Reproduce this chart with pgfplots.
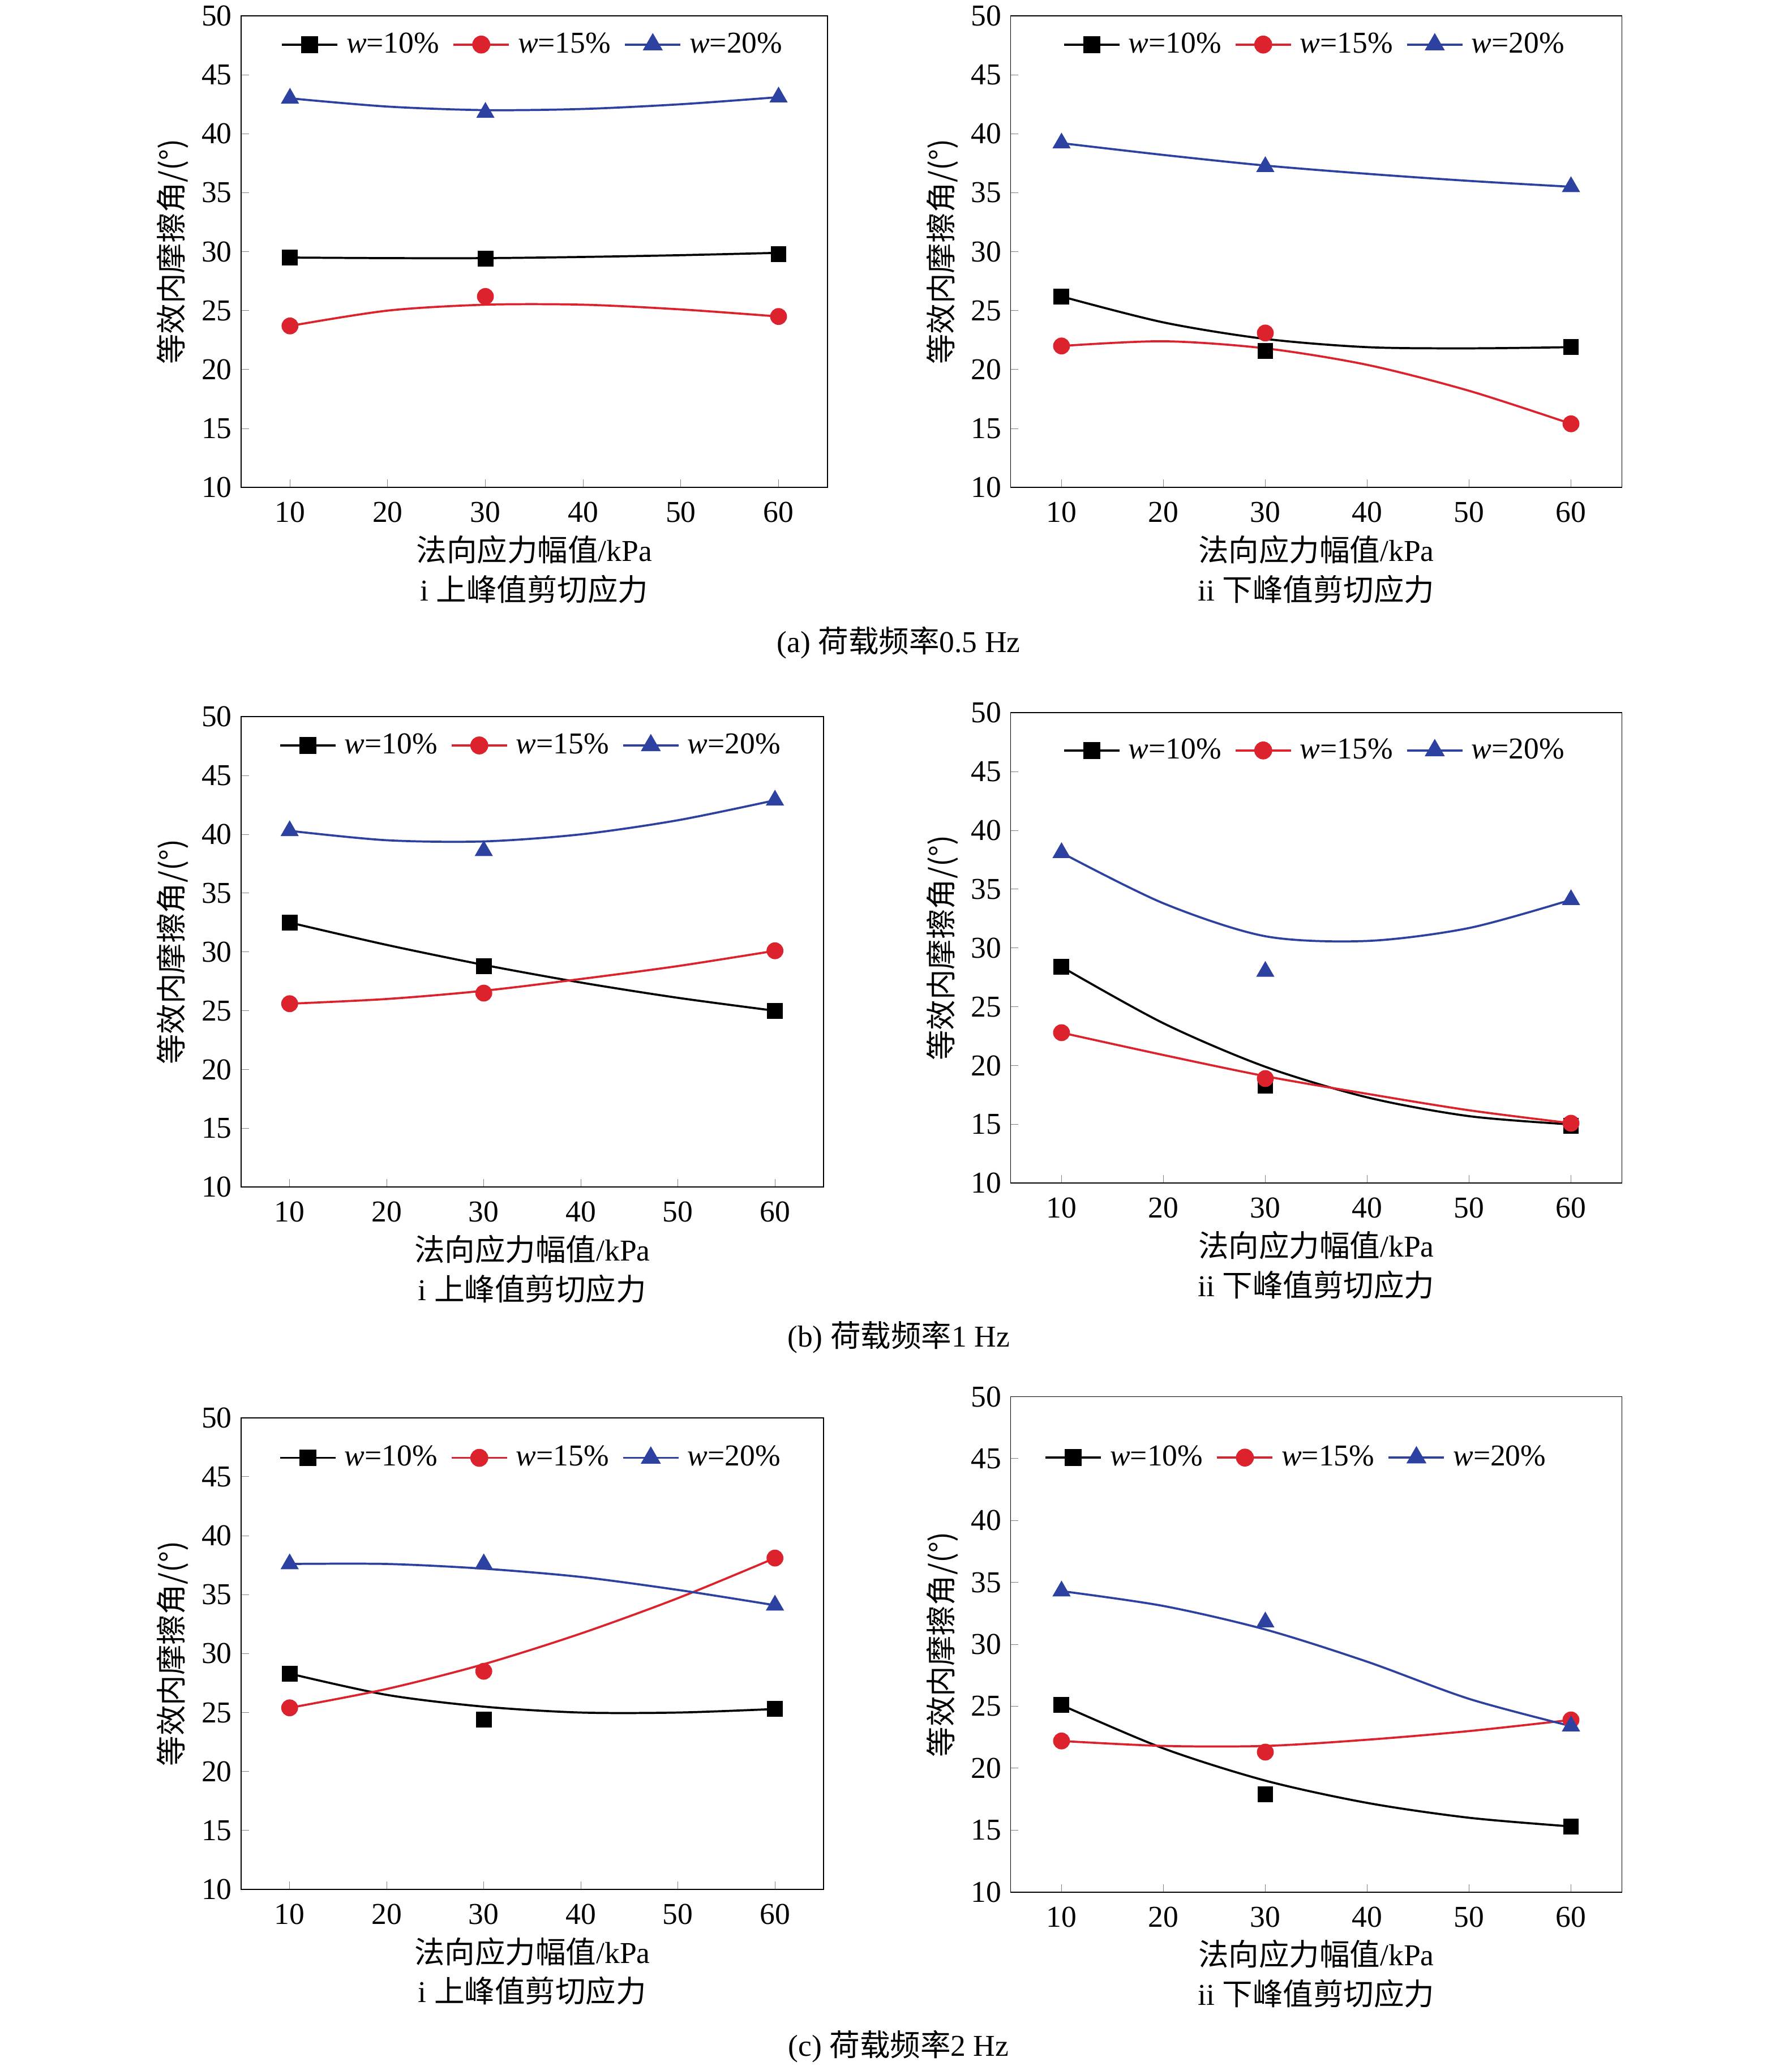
\documentclass[border=0pt]{standalone}
\usepackage{fontspec}
\setmainfont{Liberation Serif}
\newfontfamily\cjk{Noto Sans CJK SC}
\usepackage{pgfplots}
\pgfplotsset{compat=1.18}
\definecolor{cR}{RGB}{220,35,45}
\definecolor{cB}{RGB}{45,65,160}
\pgfplotsset{
  panel/.style={
    scale only axis, anchor=south west,
    xmin=5, xmax=65, ymin=10, ymax=50,
    xtick={10,20,30,40,50,60}, ytick={10,15,...,50},
    tick pos=left, tick align=inside, major tick length=3pt,
    /pgf/number format/assume math mode=true,
    tick label style={font=\fontsize{11.5}{13}\selectfont},
    xticklabel style={yshift=-2pt},
    label style={font=\fontsize{11.5}{13}\selectfont},
    ylabel={\cjk 等效内摩擦角/(°)},
    ylabel style={yshift=-2pt},
    xlabel style={align=center, yshift=2pt},
    legend columns=3,
    legend style={at={(0.5,0.939)}, anchor=center, draw=none, fill=none,
      font=\fontsize{11.5}{13}\selectfont,
      /tikz/every odd column/.append style={column sep=1pt},
      /tikz/every even column/.append style={column sep=3pt}},
    legend image code/.code={\draw[mark repeat=2,mark phase=2] plot coordinates {(0cm,0cm)(0.37cm,0cm)(0.74cm,0cm)};},
    legend cell align=left,
  },
  fit/.style={smooth, no markers, thick, forget plot},
  m10/.style={only marks, mark=square*, mark size=2.8pt, black},
  m15/.style={only marks, mark=*, mark size=3pt, cR},
  m20/.style={only marks, mark=triangle*, mark size=3.6pt, cB},
}
\newcommand{\legendentries}{%
  \addlegendimage{black, thick, mark=square*, mark size=2.8pt}
  \addlegendentry{\textit{w}=10\%}
  \addlegendimage{cR, thick, mark=*, mark size=3pt}
  \addlegendentry{\textit{w}=15\%}
  \addlegendimage{cB, thick, mark=triangle*, mark size=3.6pt}
  \addlegendentry{\textit{w}=20\%}}
\newcommand{\xlabi}{{\cjk 法向应力幅值}/kPa\\[2pt]i {\cjk 上峰值剪切应力}}
\newcommand{\xlabii}{{\cjk 法向应力幅值}/kPa\\[2pt]ii {\cjk 下峰值剪切应力}}
\begin{document}
\begin{tikzpicture}
\path[use as bounding box] (0,0) rectangle (680pt,784pt);
% (a) i
\begin{axis}[panel, at={(91.5pt,599pt)}, width=222.5pt, height=179pt, xlabel={\xlabi}]
\legendentries
\addplot[fit, black] coordinates {(10,29.5)(20,29.45)(30,29.45)(40,29.55)(50,29.7)(60,29.9)};
\addplot[fit, cR] coordinates {(10,23.7)(20,25.0)(30,25.5)(40,25.5)(50,25.1)(60,24.5)};
\addplot[fit, cB] coordinates {(10,43.0)(20,42.3)(30,42.0)(40,42.1)(50,42.5)(60,43.1)};
\addplot[m10] coordinates {(10,29.5)(30,29.4)(60,29.8)};
\addplot[m15] coordinates {(10,23.7)(30,26.2)(60,24.5)};
\addplot[m20] coordinates {(10,43.0)(30,41.8)(60,43.1)};
\end{axis}
% (a) ii
\begin{axis}[panel, at={(383.5pt,599pt)}, width=232pt, height=179pt, xlabel={\xlabii}]
\legendentries
\addplot[fit, black] coordinates {(10,26.2)(20,24.0)(30,22.6)(40,21.9)(50,21.8)(60,21.9)};
\addplot[fit, cR] coordinates {(10,22.0)(20,22.4)(30,21.8)(40,20.4)(50,18.2)(60,15.4)};
\addplot[fit, cB] coordinates {(10,39.2)(20,38.2)(30,37.3)(40,36.6)(50,36.0)(60,35.5)};
\addplot[m10] coordinates {(10,26.2)(30,21.6)(60,21.9)};
\addplot[m15] coordinates {(10,22.0)(30,23.1)(60,15.4)};
\addplot[m20] coordinates {(10,39.2)(30,37.2)(60,35.5)};
\end{axis}
\node[font=\fontsize{11.5}{13}\selectfont] at (341pt,540pt) {(a) {\cjk 荷载频率}0.5 Hz};
% (b) i
\begin{axis}[panel, at={(91.5pt,333.5pt)}, width=221pt, height=178.5pt, xlabel={\xlabi}]
\legendentries
\addplot[fit, black] coordinates {(10,32.5)(20,30.6)(30,28.9)(40,27.4)(50,26.1)(60,25.0)};
\addplot[fit, cR] coordinates {(10,25.6)(20,26.0)(30,26.7)(40,27.7)(50,28.8)(60,30.1)};
\addplot[fit, cB] coordinates {(10,40.3)(20,39.5)(30,39.4)(40,40.0)(50,41.2)(60,42.9)};
\addplot[m10] coordinates {(10,32.5)(30,28.8)(60,25.0)};
\addplot[m15] coordinates {(10,25.6)(30,26.5)(60,30.1)};
\addplot[m20] coordinates {(10,40.3)(30,38.6)(60,42.9)};
\end{axis}
% (b) ii
\begin{axis}[panel, at={(383.5pt,335pt)}, width=232pt, height=178.5pt, xlabel={\xlabii},
  legend style={at={(0.5,0.92)}}]
\legendentries
\addplot[fit, black] coordinates {(10,28.4)(20,23.6)(30,19.9)(40,17.3)(50,15.7)(60,15.0)};
\addplot[fit, cR] coordinates {(10,22.8)(20,20.9)(30,19.1)(40,17.6)(50,16.2)(60,15.1)};
\addplot[fit, cB] coordinates {(10,38.1)(20,33.8)(30,31.0)(40,30.6)(50,31.7)(60,34.1)};
\addplot[m10] coordinates {(10,28.4)(30,18.3)(60,14.9)};
\addplot[m15] coordinates {(10,22.8)(30,18.9)(60,15.1)};
\addplot[m20] coordinates {(10,38.1)(30,28.0)(60,34.1)};
\end{axis}
\node[font=\fontsize{11.5}{13}\selectfont] at (341pt,276.5pt) {(b) {\cjk 荷载频率}1 Hz};
% (c) i
\begin{axis}[panel, at={(91.5pt,67pt)}, width=221pt, height=179pt, xlabel={\xlabi},
  legend style={at={(0.5,0.915)}}]
\legendentries
\addplot[fit, black] coordinates {(10,28.3)(20,26.5)(30,25.5)(40,25.0)(50,25.0)(60,25.3)};
\addplot[fit, cR] coordinates {(10,25.4)(20,27.0)(30,29.1)(40,31.7)(50,34.7)(60,38.1)};
\addplot[fit, cB] coordinates {(10,37.6)(20,37.6)(30,37.2)(40,36.5)(50,35.4)(60,34.1)};
\addplot[m10] coordinates {(10,28.3)(30,24.4)(60,25.3)};
\addplot[m15] coordinates {(10,25.4)(30,28.5)(60,38.1)};
\addplot[m20] coordinates {(10,37.6)(30,37.6)(60,34.1)};
\end{axis}
% (c) ii
\begin{axis}[panel, at={(383.5pt,66pt)}, width=232pt, height=188pt, xlabel={\xlabii},
  legend style={at={(0.47,0.877)}}]
\legendentries
\addplot[fit, black] coordinates {(10,25.1)(20,21.6)(30,19.0)(40,17.2)(50,16.0)(60,15.3)};
\addplot[fit, cR] coordinates {(10,22.2)(20,21.8)(30,21.8)(40,22.3)(50,23.0)(60,23.9)};
\addplot[fit, cB] coordinates {(10,34.3)(20,33.1)(30,31.2)(40,28.6)(50,25.6)(60,23.4)};
\addplot[m10] coordinates {(10,25.1)(30,17.9)(60,15.3)};
\addplot[m15] coordinates {(10,22.2)(30,21.3)(60,23.9)};
\addplot[m20] coordinates {(10,34.3)(30,31.8)(60,23.4)};
\end{axis}
\node[font=\fontsize{11.5}{13}\selectfont] at (341pt,7.5pt) {(c) {\cjk 荷载频率}2 Hz};
\end{tikzpicture}
\end{document}
